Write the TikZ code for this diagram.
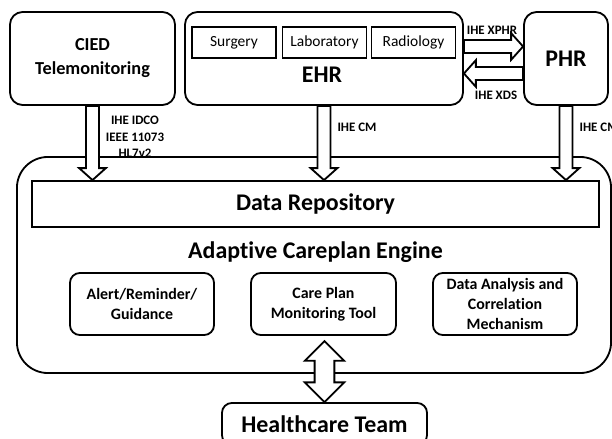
\documentclass[tikz,border=0pt]{standalone}
\usepackage{fontspec}
\setmainfont{Carlito}[Ligatures=NoCommon]
\usetikzlibrary{calc}

% hollow block arrow from #1 to tip #2
\newcommand{\fatarrow}[2]{%
  \coordinate (hb) at ($(#2)!8.5pt!(#1)$);
  \draw[hollow] ($(#1)!4.6pt!90:(#2)$) -- ($(hb)!4.6pt!-90:(#1)$)
    -- ($(hb)!9.5pt!-90:(#1)$) -- (#2) -- ($(hb)!9.5pt!90:(#1)$)
    -- ($(hb)!4.6pt!90:(#1)$) -- ($(#1)!4.6pt!-90:(#2)$) -- cycle;}
% hollow block arrow with two tips
\newcommand{\fatboth}[2]{%
  \coordinate (ha) at ($(#1)!14pt!(#2)$);
  \coordinate (hb) at ($(#2)!14pt!(#1)$);
  \draw[hollow] (#1) -- ($(ha)!14pt!90:(#2)$) -- ($(ha)!7pt!90:(#2)$)
    -- ($(hb)!7pt!-90:(#1)$) -- ($(hb)!14pt!-90:(#1)$) -- (#2)
    -- ($(hb)!14pt!90:(#1)$) -- ($(hb)!7pt!90:(#1)$)
    -- ($(ha)!7pt!-90:(#2)$) -- ($(ha)!14pt!-90:(#2)$) -- cycle;}

\begin{document}
\begin{tikzpicture}[x=0.025cm,y=-0.025cm,line width=1.3pt,
  hollow/.style={draw,fill=white},
  box/.style={draw,rounded corners=9pt,align=center,minimum height=2.325cm},
  unit/.style={draw,minimum width=2.1cm,minimum height=0.775cm,font=\fontsize{11}{13}\selectfont},
  tool/.style={draw,rounded corners=7pt,align=center,minimum width=3.6cm,minimum height=1.55cm,font=\fontsize{11.3}{14}\selectfont\bfseries},
  big/.style={font=\fontsize{17}{20}\selectfont\bfseries},
  lbl/.style={align=center,font=\fontsize{9.2}{11.7}\selectfont\bfseries}]
\useasboundingbox (0,0) rectangle (612,439);
\clip (0,0) rectangle (612,439);

% sources
\node[box,minimum width=4.125cm,font=\fontsize{13}{17}\selectfont\bfseries] (cied) at (92.5,58.5) {CIED\\Telemonitoring};
\node[box,minimum width=6.95cm] (ehr) at (324,58.5) {};
\node[unit] (surgery) at (234,42.5) {Surgery};
\node[unit] (lab) at (324.5,42.5) {Laboratory};
\node[unit] (radio) at (413.5,42.5) {Radiology};
\node[big] (ehrname) at (322,75) {EHR};
\node[box,big,minimum width=2.1cm] (phr) at (566,58.5) {PHR};

% engine
\node[draw,rounded corners=22pt,minimum width=14.85cm,minimum height=5.4cm] (engine) at (314,265) {};
\node[draw,big,minimum width=14.175cm,minimum height=1.15cm] (repo) at (315.5,204) {Data Repository};
\node[big] (title) at (315.5,252) {Adaptive Careplan Engine};
\node[tool] (alert) at (142,304) {Alert/Reminder/\\Guidance};
\node[tool,minimum width=3.625cm] (careplan) at (323.5,304) {Care Plan\\Monitoring Tool};
\node[tool] (analysis) at (505,304) {Data Analysis and\\Correlation\\Mechanism};
\node[draw,big,rounded corners=7pt,minimum width=5.125cm,minimum height=1.05cm] (team) at (324.5,424) {Healthcare Team};

% labels
\node[lbl] (idco) at (135,137) {IHE IDCO\\IEEE 11073\\HL7v2};
\node[lbl] (cm1) at (357,127) {IHE CM};
\node[lbl,anchor=west] (cm2) at (574,127) {IHE CM};
\node[lbl] (xphr) at (492,30) {IHE XPHR};
\node[lbl] (xds) at (496,95) {IHE XDS};

% arrows
\coordinate (t1) at (cied.south |- repo.north);
\coordinate (t2) at (ehr.south |- repo.north);
\coordinate (t3) at (phr.south |- repo.north);
\fatarrow{cied.south}{t1}
\fatarrow{ehr.south}{t2}
\fatarrow{phr.south}{t3}
\coordinate (x1) at ($(ehr.east)+(0,-12)$);
\coordinate (x2) at (phr.west |- x1);
\fatarrow{x1}{x2}
\coordinate (d1) at ($(phr.west)+(0,15)$);
\coordinate (d2) at (ehr.east |- d1);
\fatarrow{d1}{d2}
\coordinate (up) at ($(team.north)+(0,-61)$);
\fatboth{up}{team.north}

\end{tikzpicture}
\end{document}
